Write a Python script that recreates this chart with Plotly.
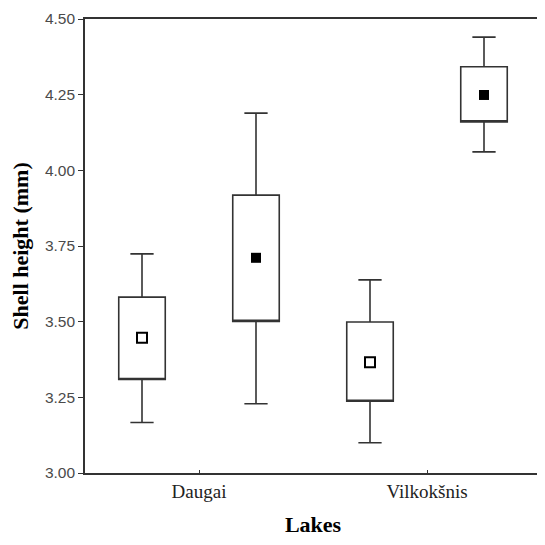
import plotly.graph_objects as go

lakes = ["Daugai", "Vilkokšnis"]
lake_pos = [0, 1]

# Group 1 (open markers)
g1_mean = [3.447, 3.366]
g1_box_low = [3.309, 3.237]
g1_box_high = [3.581, 3.499]
g1_whisk_low = [3.167, 3.100]
g1_whisk_high = [3.724, 3.638]

# Group 2 (filled markers)
g2_mean = [3.711, 4.249]
g2_box_low = [3.501, 4.160]
g2_box_high = [3.918, 4.342]
g2_whisk_low = [3.229, 4.061]
g2_whisk_high = [4.189, 4.440]

y_ticks = [3.00, 3.25, 3.50, 3.75, 4.00, 4.25, 4.50]

offset = 0.25
box_w = 0.204
line_col = "#333333"

x1 = [p - offset for p in lake_pos]
x2 = [p + offset for p in lake_pos]

fig = go.Figure()
for xs, lo, hi, wl, wh in [(x1, g1_box_low, g1_box_high, g1_whisk_low, g1_whisk_high),
                           (x2, g2_box_low, g2_box_high, g2_whisk_low, g2_whisk_high)]:
    fig.add_trace(go.Box(
        x=xs, q1=lo, median=lo, q3=hi, lowerfence=wl, upperfence=wh,
        width=box_w, whiskerwidth=0.5, fillcolor="white",
        line=dict(color=line_col, width=1.6), boxpoints=False, showlegend=False,
        hoverinfo="skip"))

fig.add_trace(go.Scatter(
    x=x1, y=g1_mean, mode="markers", showlegend=False,
    marker=dict(symbol="square-open", size=10, color="black", line=dict(width=2, color="black"))))
fig.add_trace(go.Scatter(
    x=x2, y=g2_mean, mode="markers", showlegend=False,
    marker=dict(symbol="square", size=10, color="black")))

fig.update_layout(
    width=537, height=529,
    margin=dict(l=77, r=2, t=10, b=64),
    plot_bgcolor="white", paper_bgcolor="white",
    showlegend=False,
)
fig.update_xaxes(
    range=[-0.5, 1.5], tickvals=lake_pos, ticktext=lakes,
    showgrid=False, zeroline=False,
    showline=True, linecolor=line_col, linewidth=1.6, mirror=True,
    ticks="inside", ticklen=3, tickcolor=line_col,
    tickfont=dict(family="Liberation Serif", size=19, color="#222222"),
    title=dict(text="<b>Lakes</b>", font=dict(family="Liberation Serif", size=22, color="black"), standoff=18),
)
fig.update_yaxes(
    range=[3.0, 4.5], tickvals=y_ticks, ticktext=[f"{v:.2f}" for v in y_ticks],
    showgrid=False, zeroline=False,
    showline=True, linecolor=line_col, linewidth=1.6, mirror=True,
    ticks="outside", ticklen=5, tickcolor=line_col,
    tickfont=dict(family="Liberation Sans", size=15.5, color="#4a4a4a"),
    title=dict(text="<b>Shell height (mm)</b>", font=dict(family="Liberation Serif", size=22, color="black"), standoff=12),
)

fig.write_html("out.html")
